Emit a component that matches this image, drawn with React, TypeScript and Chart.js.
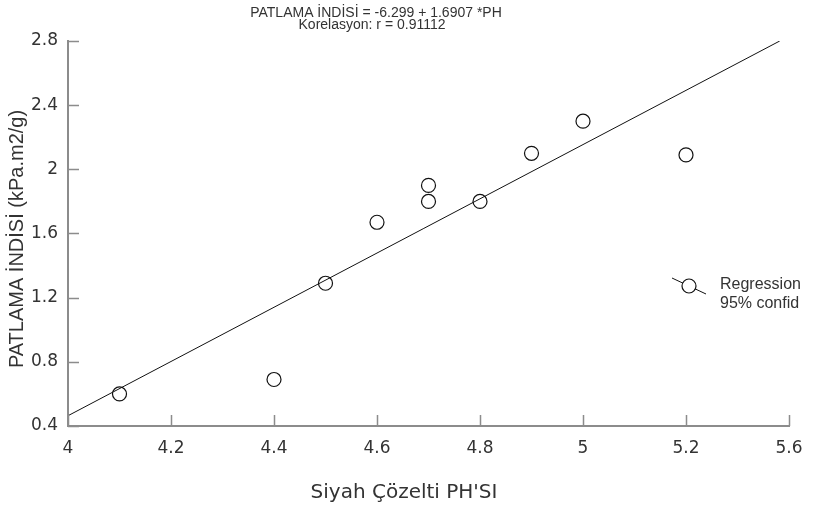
import React, { useEffect, useRef } from "react";
import { Chart, registerables } from "chart.js";

Chart.register(...registerables);

const xValues = [4.1, 4.4, 4.5, 4.6, 4.7, 4.7, 4.8, 4.9, 5.0, 5.2];
const yValues = [0.6, 0.69, 1.29, 1.67, 1.9, 1.8, 1.8, 2.1, 2.3, 2.09];
const regressionX = [4, 5.382];
const regressionY = [0.464, 2.8];
const xTickValues = [4, 4.2, 4.4, 4.6, 4.8, 5, 5.2, 5.4];
const xTickLabels = ["4", "4.2", "4.4", "4.6", "4.8", "5", "5.2", "5.6"];
const yTickValues = [0.4, 0.8, 1.2, 1.6, 2.0, 2.4, 2.8];
const yTickLabels = ["0.4", "0.8", "1.2", "1.6", "2", "2.4", "2.8"];
const titleLines = ["PATLAMA İNDİSİ = -6.299 + 1.6907 *PH", "Korelasyon: r = 0.91112"];
const xTitle = "Siyah Çözelti PH'SI";
const yTitle = "PATLAMA İNDİSİ (kPa.m2/g)";
const legendLabels = ["Regression", "95% confid"];

const AXIS = "#8c8c8c";
const TEXT = "#333333";

const labelFor = (vals: number[], labels: string[], v: number) => {
  const i = vals.findIndex((t) => Math.abs(t - v) < 1e-6);
  return i >= 0 ? labels[i] : "";
};

const decorPlugin = {
  id: "decor",
  afterDraw(chart: any) {
    const ctx = chart.ctx;
    const xs = chart.scales.x;
    const ys = chart.scales.y;
    const area = chart.chartArea;
    ctx.save();
    // inward tick marks
    ctx.strokeStyle = AXIS;
    ctx.lineWidth = 1.5;
    ctx.beginPath();
    xTickValues.forEach((v) => {
      const px = Math.round(xs.getPixelForValue(v)) + 0.5;
      ctx.moveTo(px, area.bottom);
      ctx.lineTo(px, area.bottom - 11);
    });
    yTickValues.forEach((v) => {
      const py = Math.round(ys.getPixelForValue(v)) + 0.5;
      ctx.moveTo(area.left, py);
      ctx.lineTo(area.left + 11, py);
    });
    ctx.stroke();

    // title
    ctx.fillStyle = TEXT;
    ctx.textAlign = "center";
    ctx.textBaseline = "middle";
    ctx.font = "14px 'Liberation Sans'";
    ctx.fillText(titleLines[0], 376, 13);
    ctx.fillText(titleLines[1], 372, 25);

    // x title
    ctx.font = "20px 'DejaVu Sans'";
    ctx.fillText(xTitle, 404, 493);

    // y title
    ctx.save();
    ctx.translate(17, 239);
    ctx.rotate(-Math.PI / 2);
    ctx.font = "20px 'Liberation Sans'";
    ctx.fillText(yTitle, 0, 0);
    ctx.restore();

    // legend
    ctx.strokeStyle = "#111";
    ctx.lineWidth = 1;
    ctx.beginPath();
    ctx.moveTo(672, 278);
    ctx.lineTo(706, 294);
    ctx.stroke();
    ctx.beginPath();
    ctx.arc(689, 286, 7, 0, Math.PI * 2);
    ctx.fillStyle = "#fff";
    ctx.fill();
    ctx.lineWidth = 1.2;
    ctx.stroke();
    ctx.fillStyle = TEXT;
    ctx.textAlign = "left";
    ctx.font = "16px 'Liberation Sans'";
    ctx.fillText(legendLabels[0], 720, 285);
    ctx.fillText(legendLabels[1], 720, 304);
    ctx.restore();
  },
};

export default function App() {
  const ref = useRef<HTMLCanvasElement>(null);
  useEffect(() => {
    if (!ref.current) return;
    const chart = new Chart(ref.current, {
      type: "scatter",
      data: {
        datasets: [
          {
            type: "line",
            label: legendLabels[0],
            data: regressionX.map((x, i) => ({ x, y: regressionY[i] })),
            borderColor: "#111",
            borderWidth: 1,
            pointRadius: 0,
            fill: false,
          } as any,
          {
            label: "data",
            data: xValues.map((x, i) => ({ x, y: yValues[i] })),
            pointRadius: 7,
            pointBackgroundColor: "#fff",
            pointBorderColor: "#111",
            pointBorderWidth: 1.2,
          },
        ],
      },
      options: {
        responsive: false,
        animation: false,
        layout: { padding: { top: 41, right: 28, left: 0, bottom: 0 } },
        plugins: {
          legend: { display: false },
          title: { display: false },
          tooltip: { enabled: false },
        },
        scales: {
          x: {
            type: "linear",
            min: 4,
            max: 5.4,
            afterBuildTicks: (s: any) => {
              s.ticks = xTickValues.map((v) => ({ value: v }));
            },
            afterFit: (s: any) => {
              s.height = 512 - 426;
            },
            grid: { display: false, drawTicks: false },
            border: { display: true, color: AXIS, width: 2 },
            ticks: {
              padding: 12,
              color: TEXT,
              font: { family: "'DejaVu Sans'", size: 17 },
              maxRotation: 0,
              autoSkip: false,
              callback: (v: any) => labelFor(xTickValues, xTickLabels, Number(v)),
            },
          },
          y: {
            type: "linear",
            min: 0.4,
            max: 2.8,
            afterBuildTicks: (s: any) => {
              s.ticks = yTickValues.map((v) => ({ value: v }));
            },
            afterFit: (s: any) => {
              s.width = 68;
            },
            grid: { display: false, drawTicks: false },
            border: { display: true, color: AXIS, width: 2 },
            ticks: {
              padding: 10,
              color: TEXT,
              font: { family: "'DejaVu Sans'", size: 17 },
              autoSkip: false,
              callback: (v: any) => labelFor(yTickValues, yTickLabels, Number(v)),
            },
          },
        },
      },
      plugins: [decorPlugin],
    });
    return () => chart.destroy();
  }, []);
  return (
    <div style={{ position: "fixed", left: 0, top: 0, width: 817, height: 512, background: "#fff" }}>
      <canvas ref={ref} width={817} height={512} style={{ width: 817, height: 512 }} />
    </div>
  );
}
